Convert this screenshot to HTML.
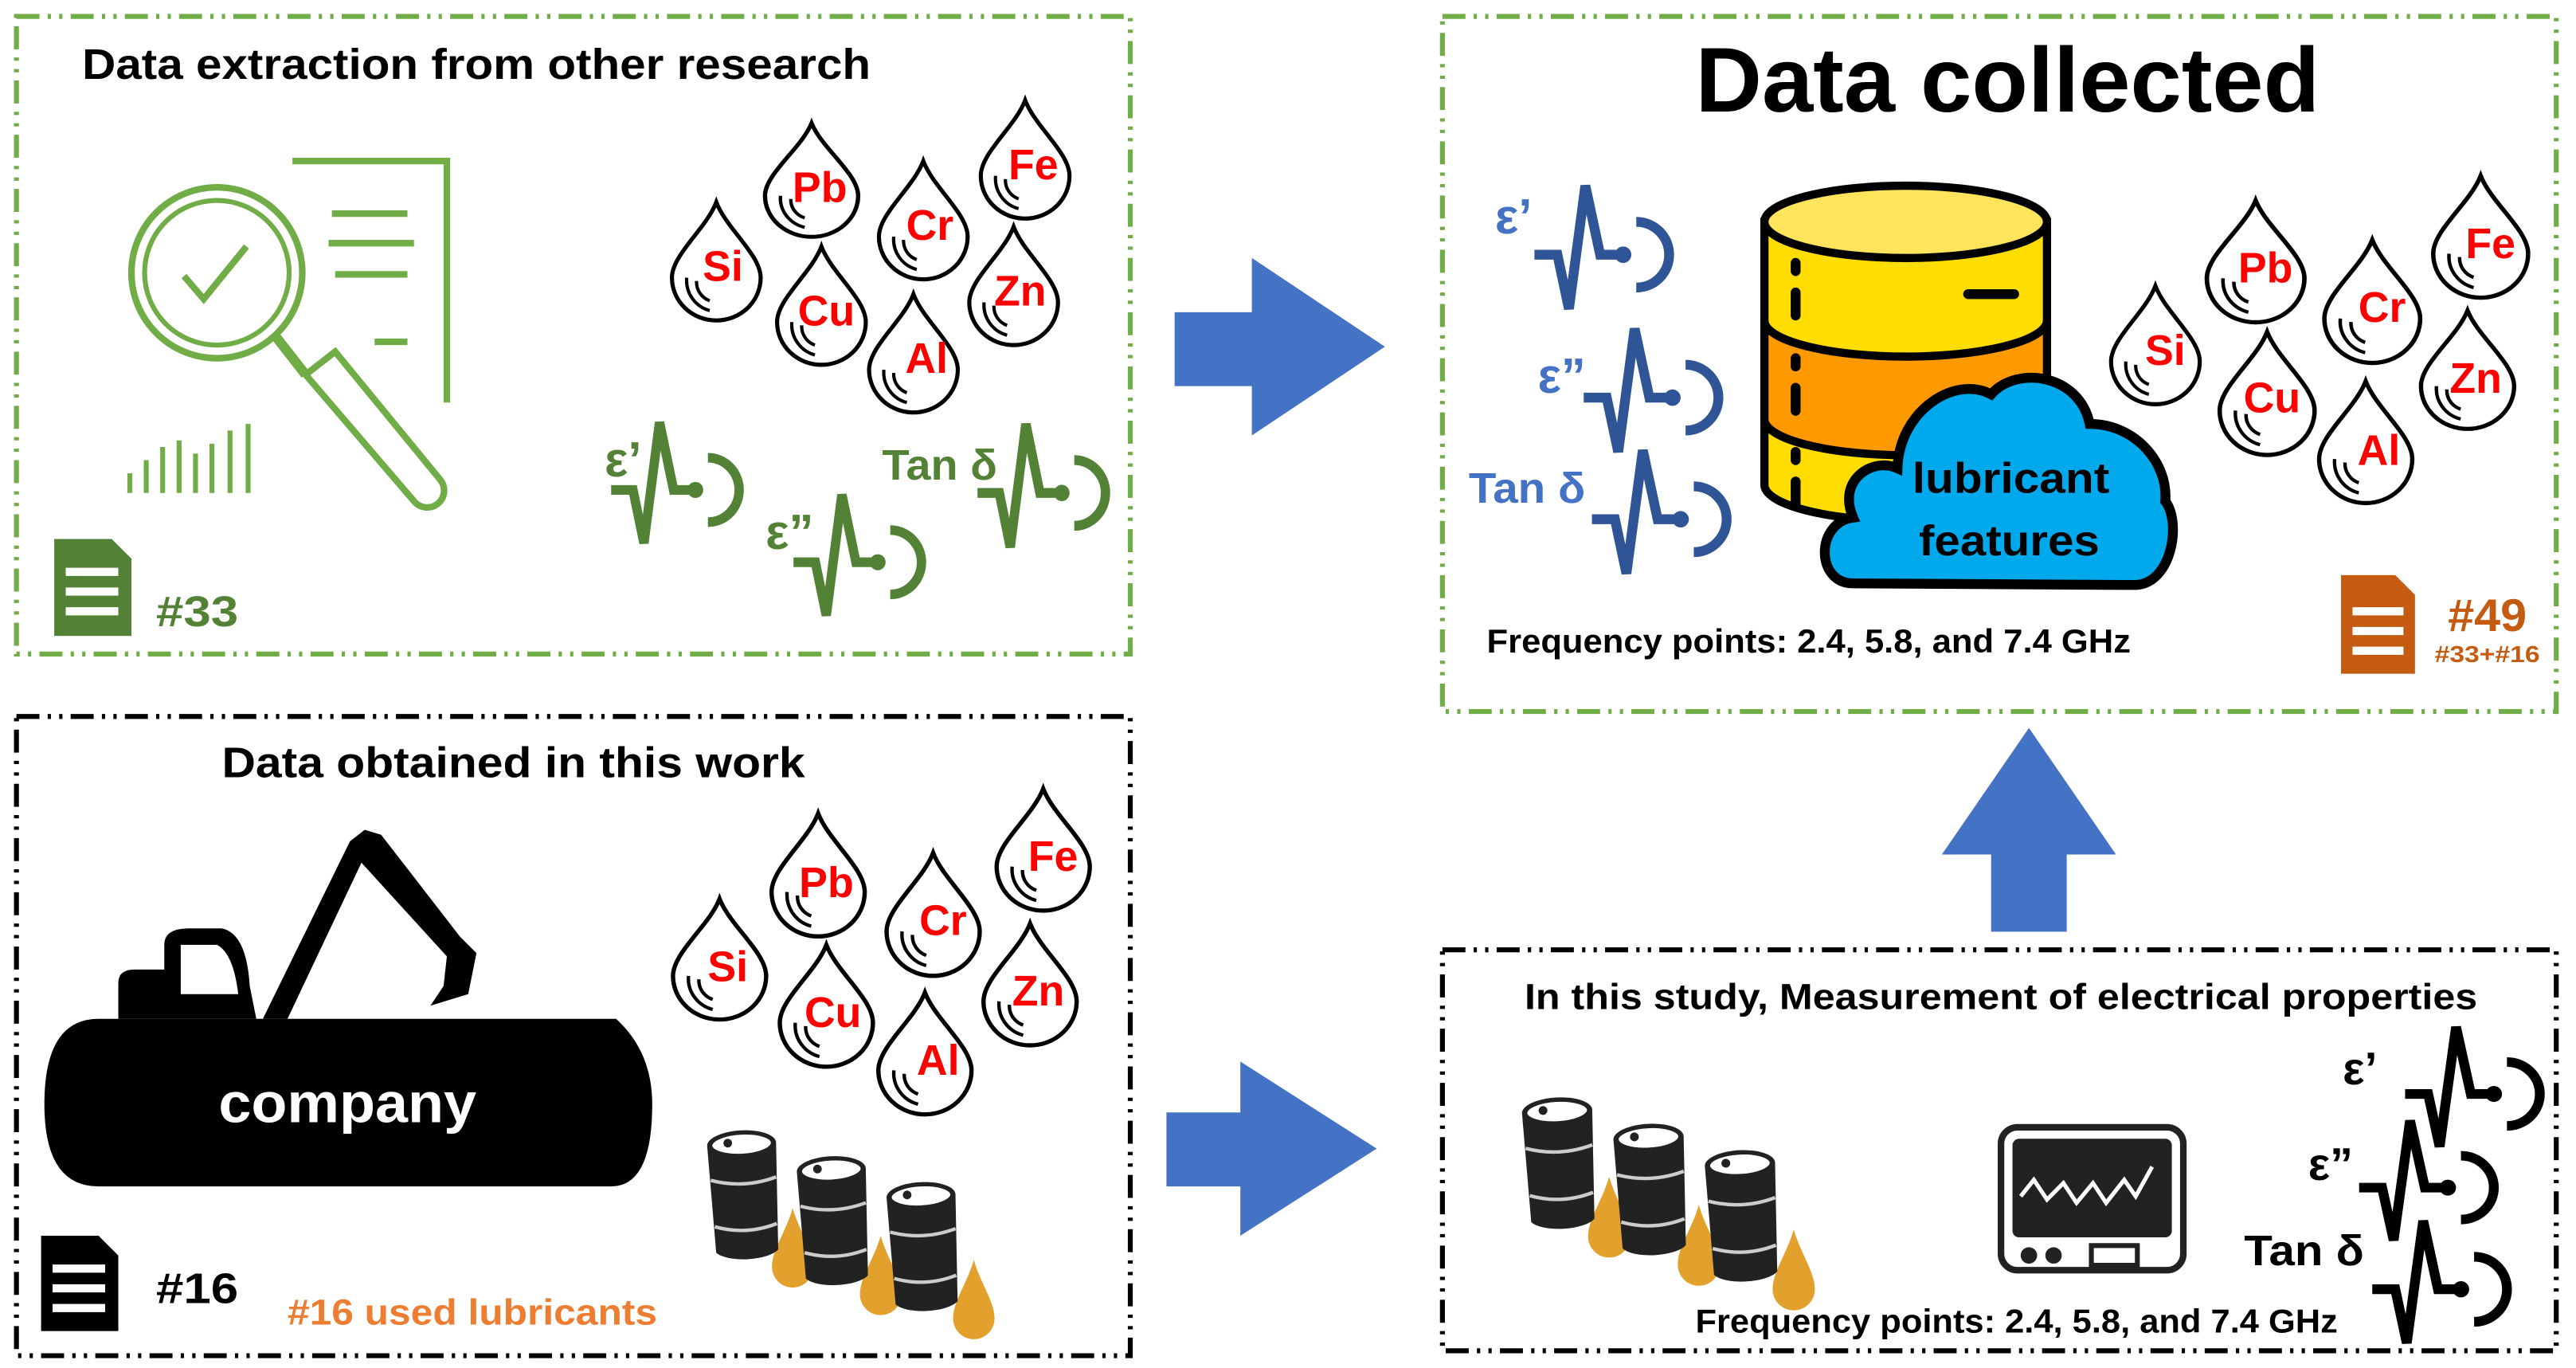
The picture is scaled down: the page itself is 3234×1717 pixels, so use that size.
<!DOCTYPE html>
<html><head><meta charset="utf-8"><style>html,body{margin:0;padding:0;background:#fff}svg{display:block}text{font-family:"Liberation Sans",sans-serif;font-weight:bold}</style></head><body>
<svg width="3234" height="1717" viewBox="0 0 1568 832.5" xmlns="http://www.w3.org/2000/svg">
<defs>
<g id="drop"><path d="M0,0 C6,16 27,32 27,46 A27,26 0 1 1 -27,46 C-27,32 -6,16 0,0Z" fill="#fff" stroke="#000" stroke-width="2.5"/><path d="M-18,46 A19,19 0 0 0 -4,66 M-12,48 A12,12 0 0 0 -4,60" fill="none" stroke="#000" stroke-width="2"/></g>
<g id="pulse"><path d="M0,42 H14 L21,75 L31,0 L40,42 H52" fill="none" stroke-width="6" stroke-linejoin="miter"/><circle cx="54" cy="42" r="5" stroke="none"/><path d="M62,22 A20,20 0 0 1 62,62" fill="none" stroke-width="6"/></g>
<g id="barrel"><path d="M0,8 A20,8 0 0 1 40,8 L38,70 A19,7 0 0 1 2,70Z" fill="#222"/><ellipse cx="20" cy="8" rx="18" ry="6.5" fill="#fff" stroke="#222" stroke-width="2"/><circle cx="12" cy="7" r="2.5" fill="#222"/><path d="M1,28 Q20,34 39,28 M2,55 Q20,61 38,55" stroke="#ccc" stroke-width="2" fill="none"/></g>
<g id="oil"><path d="M0,0 C4,14 12,24 12,34 A12,12 0 0 1 -12,34 C-12,24 -4,14 0,0Z" fill="#E2A02C"/></g>
</defs>
<g fill="none" stroke-width="3" stroke-dasharray="14 5 2 5 2 5">
<rect x="10" y="10" width="678" height="388" stroke="#70AD47"/>
<rect x="10" y="436" width="678" height="389" stroke="#000"/>
<rect x="878" y="10" width="678" height="423" stroke="#70AD47"/>
<rect x="878" y="578" width="678" height="244" stroke="#000"/>
</g>
<g fill="#4472C4">
<path d="M715,190 H762 V157 L843,211 L762,265 V235 H715Z"/>
<path d="M710,677 H755 V646 L838,699 L755,752 V722 H710Z"/>
<path d="M1235,443 L1288,520 H1258 V567 H1212 V520 H1182Z"/>
</g>
<text x="50" y="48" font-size="26" textLength="480" lengthAdjust="spacingAndGlyphs">Data extraction from other research</text>
<text x="1032" y="68" font-size="56" textLength="380" lengthAdjust="spacingAndGlyphs">Data collected</text>
<text x="135" y="473" font-size="26" textLength="355" lengthAdjust="spacingAndGlyphs">Data obtained in this work</text>
<text x="928" y="614" font-size="22" textLength="580" lengthAdjust="spacingAndGlyphs">In this study, Measurement of electrical properties</text>
<text x="905" y="397" font-size="20" textLength="392" lengthAdjust="spacingAndGlyphs">Frequency points: 2.4, 5.8, and 7.4 GHz</text>
<text x="1032" y="811" font-size="20" textLength="391" lengthAdjust="spacingAndGlyphs">Frequency points: 2.4, 5.8, and 7.4 GHz</text>
<g stroke="#70AD47" fill="none" stroke-width="4">
<circle cx="132" cy="166" r="52"/><circle cx="132" cy="166" r="44" stroke-width="3"/>
<path d="M112,168 L124,182 L150,150"/>
<path d="M168,205 L186,228" stroke-width="6"/>
<path d="M186,228 L252,305 A10,10 0 0 0 268,292 L204,214 Z" stroke-width="4"/>
<path d="M178,98 H272 V245"/>
<path d="M202,130 H248 M200,148 H252 M204,167 H248 M228,208 H248"/>
<path d="M79,300 V288 M89,300 V280 M99,300 V272 M109,300 V268 M119,300 V276 M129,300 V270 M140,300 V262 M151,300 V258" stroke-width="3"/>
</g>
<g><path d="M33,328 H68 L80,340 V387 H33Z" fill="#538135"/><path d="M40,348 H72 M40,360 H72 M40,372 H72" stroke="#fff" stroke-width="5"/></g>
<text x="95" y="381" font-size="26" fill="#538135" textLength="50" lengthAdjust="spacingAndGlyphs">#33</text>
<g><path d="M25,752 H60 L72,764 V810 H25Z" fill="#000"/><path d="M32,772 H64 M32,784 H64 M32,796 H64" stroke="#fff" stroke-width="5"/></g>
<text x="95" y="793" font-size="26" fill="#000" textLength="50" lengthAdjust="spacingAndGlyphs">#16</text>
<text x="175" y="806" font-size="22" fill="#ED7D31" textLength="225" lengthAdjust="spacingAndGlyphs">#16 used lubricants</text>
<g><path d="M1425,350 H1458 L1470,362 V410 H1425Z" fill="#C55A11"/><path d="M1432,372 H1463 M1432,384 H1463 M1432,396 H1463" stroke="#fff" stroke-width="5"/></g>
<text x="1490" y="384" font-size="28" fill="#C55A11" textLength="48" lengthAdjust="spacingAndGlyphs">#49</text>
<text x="1482" y="403" font-size="14" fill="#C55A11" textLength="64" lengthAdjust="spacingAndGlyphs">#33+#16</text>
<g font-size="26" fill="#f00" text-anchor="middle">
<use href="#drop" transform="translate(436,123) scale(1,1)"/><text x="440" y="171">Si</text>
<use href="#drop" transform="translate(494,75) scale(1.05,0.96)"/><text x="499" y="123">Pb</text>
<use href="#drop" transform="translate(562,98)"/><text x="566" y="146">Cr</text>
<use href="#drop" transform="translate(624,61)"/><text x="629" y="109">Fe</text>
<use href="#drop" transform="translate(500,150)"/><text x="503" y="198">Cu</text>
<use href="#drop" transform="translate(617,138)"/><text x="621" y="186">Zn</text>
<use href="#drop" transform="translate(556,179)"/><text x="564" y="227">Al</text>
<use href="#drop" transform="translate(438,547) scale(1.05,1.02)"/><text x="443" y="597">Si</text>
<use href="#drop" transform="translate(498,495) scale(1.05,1.04)"/><text x="503" y="546">Pb</text>
<use href="#drop" transform="translate(568,519) scale(1.05,1.04)"/><text x="574" y="569">Cr</text>
<use href="#drop" transform="translate(635,480) scale(1.05,1.03)"/><text x="641" y="530">Fe</text>
<use href="#drop" transform="translate(503,575) scale(1.05,1.03)"/><text x="507" y="625">Cu</text>
<use href="#drop" transform="translate(627,562) scale(1.05,1.03)"/><text x="632" y="612">Zn</text>
<use href="#drop" transform="translate(563,604) scale(1.05,1.03)"/><text x="571" y="654">Al</text>
<use href="#drop" transform="translate(1312,174)"/><text x="1318" y="222">Si</text>
<use href="#drop" transform="translate(1373,122) scale(1.1,1.03)"/><text x="1379" y="172">Pb</text>
<use href="#drop" transform="translate(1444,146) scale(1.08,1.04)"/><text x="1450" y="196">Cr</text>
<use href="#drop" transform="translate(1510,107) scale(1.07,1.03)"/><text x="1516" y="157">Fe</text>
<use href="#drop" transform="translate(1380,202) scale(1.07,1.04)"/><text x="1383" y="251">Cu</text>
<use href="#drop" transform="translate(1502,189) scale(1.05,1.0)"/><text x="1507" y="239">Zn</text>
<use href="#drop" transform="translate(1440,232) scale(1.05,1.03)"/><text x="1448" y="283">Al</text>
</g>
<g fill="#538135" stroke="#538135">
<use href="#pulse" transform="translate(372,257) scale(0.95,0.98)"/>
<use href="#pulse" transform="translate(483,301) scale(0.95,0.98)"/>
<use href="#pulse" transform="translate(595,258) scale(0.95,1)"/>
</g>
<g font-size="30" fill="#538135">
<text x="368" y="290">ε’</text><text x="466" y="334">ε”</text>
<text x="537" y="292" font-size="26" textLength="70" lengthAdjust="spacingAndGlyphs">Tan δ</text>
</g>
<g fill="#2F5597" stroke="#2F5597">
<use href="#pulse" transform="translate(934,113) scale(1,1)"/>
<use href="#pulse" transform="translate(964,200)"/>
<use href="#pulse" transform="translate(969,274)"/>
</g>
<g font-size="30" fill="#4472C4">
<text x="910" y="142">ε’</text><text x="936" y="239">ε”</text>
<text x="894" y="306" font-size="26" textLength="71" lengthAdjust="spacingAndGlyphs">Tan δ</text>
</g>
<g fill="#000" stroke="#000">
<use href="#pulse" transform="translate(1464,625) scale(1,0.97)"/>
<use href="#pulse" transform="translate(1436,682) scale(1,0.97)"/>
<use href="#pulse" transform="translate(1444,743) scale(1,0.99)"/>
</g>
<g font-size="28" fill="#000">
<text x="1426" y="660">ε’</text><text x="1405" y="718">ε”</text>
<text x="1366" y="770" font-size="26" textLength="73" lengthAdjust="spacingAndGlyphs">Tan δ</text>
</g>
<g stroke="#000" stroke-width="5">
<path d="M1074,135 V295 A86,22 0 0 0 1246,295 V135Z" fill="#FFDD00"/>
<path d="M1074,195 A86,22 0 0 0 1246,195 V255 A86,22 0 0 1 1074,255Z" fill="#FF9900"/>
<ellipse cx="1160" cy="135" rx="86" ry="22" fill="#FFE45C"/>
<path d="M1093,160 V165 M1093,178 V192 M1093,218 V223 M1093,236 V250 M1093,275 V280 M1093,293 V307 M1198,179 H1226" stroke-width="6" stroke-linecap="round"/>
</g>
<path d="M1128,355 C1105,355 1105,318 1128,315 C1118,292 1140,278 1155,285 C1156,250 1190,228 1212,240 C1228,222 1266,228 1272,258 C1300,258 1320,282 1318,305 C1328,318 1322,355 1300,356Z" fill="#00A8EC" stroke="#000" stroke-width="6"/>
<text x="1164" y="300" font-size="26" fill="#000" textLength="120" lengthAdjust="spacingAndGlyphs">lubricant</text>
<text x="1168" y="338" font-size="26" fill="#000" textLength="110" lengthAdjust="spacingAndGlyphs">features</text>
<g fill="#000">
<path d="M60,620 H375 Q397,640 397,672 Q397,722 372,722 H60 Q27,722 27,672 Q27,620 60,620Z"/>
<path d="M72,620 V598 Q72,590 82,590 H100 V575 Q100,565 115,565 H135 Q150,568 152,600 L156,620Z"/>
<path d="M110,575 H132 Q142,580 145,605 H110Z" fill="#fff"/>
<path d="M160,620 L175,620 L220,525 L272,582 L270,600 L262,612 L285,605 L290,580 L280,570 L232,508 L222,505 L213,512Z"/>
<text x="133" y="683" font-size="34" fill="#fff" textLength="157" lengthAdjust="spacingAndGlyphs">company</text>
</g>
<g transform="translate(430,689) scale(1.05,1.05)">
<use href="#oil" transform="translate(50,44)"/><use href="#oil" transform="translate(101,60)"/><use href="#oil" transform="translate(155,74)"/>
<use href="#barrel" transform="translate(0,0) rotate(-3)"/><use href="#barrel" transform="translate(52,15) rotate(-3)"/><use href="#barrel" transform="translate(104,30) rotate(-3)"/>
</g>
<g transform="translate(926,669) scale(1.07,1.07)">
<use href="#oil" transform="translate(50,44)"/><use href="#oil" transform="translate(101,60)"/><use href="#oil" transform="translate(155,74)"/>
<use href="#barrel" transform="translate(0,0) rotate(-3)"/><use href="#barrel" transform="translate(52,15) rotate(-3)"/><use href="#barrel" transform="translate(104,30) rotate(-3)"/>
</g>
<rect x="1218" y="686" width="111" height="87" rx="10" fill="#fff" stroke="#222" stroke-width="4"/>
<rect x="1225" y="693" width="97" height="60" rx="4" fill="#222"/>
<path d="M1230,728 L1238,718 L1246,730 L1256,720 L1264,732 L1274,720 L1282,732 L1293,718 L1300,728 L1310,710" fill="none" stroke="#fff" stroke-width="2.5"/>
<circle cx="1235" cy="764" r="5" fill="#222"/><circle cx="1250" cy="764" r="5" fill="#222"/><rect x="1273" y="758" width="28" height="12" fill="#fff" stroke="#222" stroke-width="3"/>
</svg>
</body></html>
